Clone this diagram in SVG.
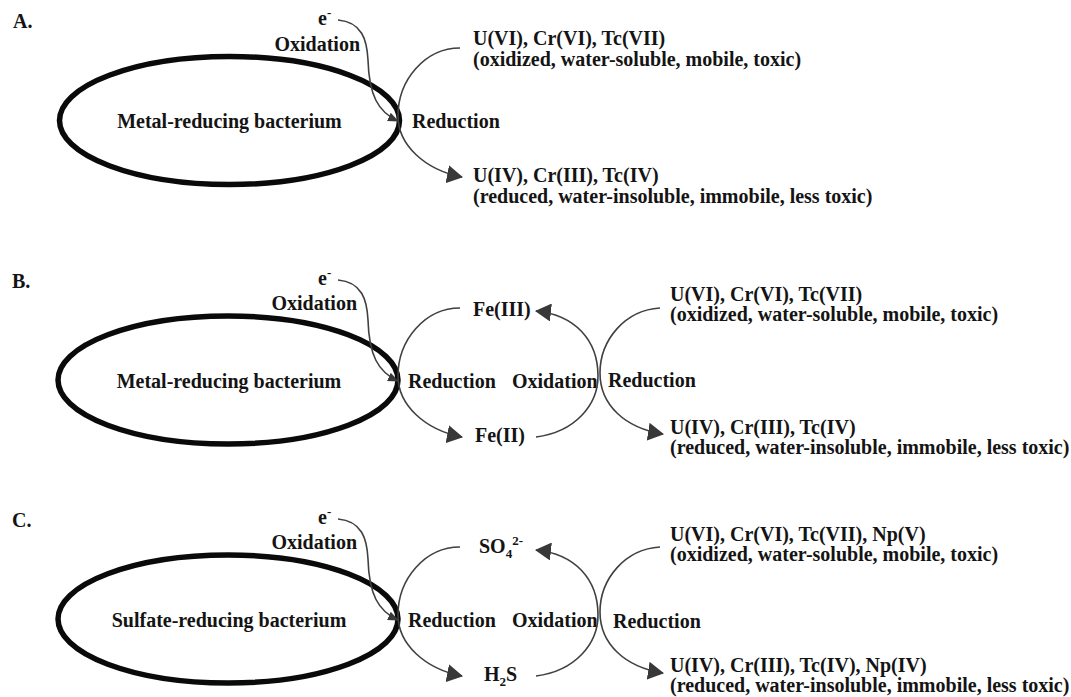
<svg xmlns="http://www.w3.org/2000/svg" width="1071" height="697" viewBox="0 0 1071 697">
<style>
text{font-family:"Liberation Serif","Times New Roman",serif;font-weight:bold;font-size:20px;fill:#141414}
.cell{fill:none;stroke:#0a0a0a;stroke-width:5.5}
.ln{fill:none;stroke:#404040;stroke-width:1.6}
.big{marker-end:url(#ah)}
.sm{marker-end:url(#as)}
.sup{font-size:13px}
</style>
<defs>
<marker id="ah" viewBox="0 0 16 18" refX="15" refY="9" markerWidth="16" markerHeight="18" markerUnits="userSpaceOnUse" orient="auto"><path d="M0,0 L16,9 L0,18 z" fill="#383838"/></marker>
<marker id="as" viewBox="0 0 11 9" refX="10" refY="4.5" markerWidth="11" markerHeight="9" markerUnits="userSpaceOnUse" orient="auto"><path d="M0,0 L11,4.5 L0,9 z" fill="#383838"/></marker>
</defs>

<!-- Panel A -->
<g id="panelA">
<text x="13" y="28">A.</text>
<g id="A-cell"><ellipse class="cell" cx="229.5" cy="120.5" rx="170" ry="64"/><text x="229.5" y="128" text-anchor="middle">Metal-reducing bacterium</text></g>
<g id="A-e"><text x="318" y="25">e<tspan class="sup" dy="-8">-</tspan></text></g>
<g id="A-ox"><text x="360" y="51" text-anchor="end">Oxidation</text></g>
<g id="A-red"><text x="412" y="128">Reduction</text></g>
<g id="A-top"><text x="473" y="45">U(VI), Cr(VI), Tc(VII)</text><text x="473" y="66">(oxidized, water-soluble, mobile, toxic)</text></g>
<g id="A-bot"><text x="473" y="182">U(IV), Cr(III), Tc(IV)</text><text x="473" y="203">(reduced, water-insoluble, immobile, less toxic)</text></g>
</g>

<!-- Panel B -->
<g id="panelB">
<text x="12" y="288">B.</text>
<g id="B-cell"><ellipse class="cell" cx="228" cy="380" rx="170" ry="64"/><text x="229" y="388" text-anchor="middle">Metal-reducing bacterium</text></g>
<g id="B-e"><text x="318" y="285">e<tspan class="sup" dy="-8">-</tspan></text></g>
<g id="B-ox1"><text x="357" y="310" text-anchor="end">Oxidation</text></g>
<g id="B-red1"><text x="408" y="388">Reduction</text></g>
<g id="B-ox2"><text x="512" y="388">Oxidation</text></g>
<g id="B-fe3"><text x="473" y="316">Fe(III)</text></g>
<g id="B-fe2"><text x="475" y="442">Fe(II)</text></g>
<g id="B-red2"><text x="608" y="387">Reduction</text></g>
<g id="B-top"><text x="670" y="301">U(VI), Cr(VI), Tc(VII)</text><text x="670" y="321">(oxidized, water-soluble, mobile, toxic)</text></g>
<g id="B-bot"><text x="670" y="434">U(IV), Cr(III), Tc(IV)</text><text x="670" y="454">(reduced, water-insoluble, immobile, less toxic)</text></g>
</g>

<!-- Panel C -->
<g id="panelC">
<text x="12" y="527">C.</text>
<g id="C-cell"><ellipse class="cell" cx="228" cy="619" rx="170" ry="64"/><text x="229" y="627" text-anchor="middle">Sulfate-reducing bacterium</text></g>
<g id="C-e"><text x="318" y="524">e<tspan class="sup" dy="-8">-</tspan></text></g>
<g id="C-ox1"><text x="357" y="549" text-anchor="end">Oxidation</text></g>
<g id="C-red1"><text x="408" y="627">Reduction</text></g>
<g id="C-ox2"><text x="512" y="627">Oxidation</text></g>
<g id="C-so4"><text x="479" y="553">SO<tspan class="sup" dy="5">4</tspan><tspan class="sup" dy="-13">2-</tspan></text></g>
<g id="C-h2s"><text x="484" y="681">H<tspan class="sup" dy="5">2</tspan><tspan dy="-5">S</tspan></text></g>
<g id="C-red2"><text x="613" y="628">Reduction</text></g>
<g id="C-top"><text x="670" y="541">U(VI), Cr(VI), Tc(VII), Np(V)</text><text x="670" y="561">(oxidized, water-soluble, mobile, toxic)</text></g>
<g id="C-bot"><text x="670" y="672">U(IV), Cr(III), Tc(IV), Np(IV)</text><text x="670" y="692">(reduced, water-insoluble, immobile, less toxic)</text></g>
</g>

<g id="connectors">
<!-- A -->
<path class="ln sm" d="M338,20 C362,22 367,40 368,60 C369,95 378,112 398,121"/>
<path class="ln big" d="M460,48 C425,48 398,80 398,116 C398,145 425,170 462,177"/>
<!-- B -->
<path class="ln sm" d="M338,280 C362,282 367,300 368,320 C369,355 378,372 398,381"/>
<path class="ln big" d="M460,308 C425,308 398,340 398,376 C398,405 425,430 462,437"/>
<path class="ln big" d="M536,437 C575,432 598,405 598,376 C598,340 575,315 536,311"/>
<path class="ln big" d="M660,308 C625,310 600,340 600,373 C600,405 625,428 663,434"/>
<!-- C -->
<path class="ln sm" d="M338,519 C362,521 367,539 368,559 C369,594 378,611 398,620"/>
<path class="ln big" d="M460,547 C425,547 398,579 398,615 C398,644 425,669 462,676"/>
<path class="ln big" d="M536,676 C575,671 598,644 598,615 C598,579 575,554 536,550"/>
<path class="ln big" d="M660,547 C625,549 600,579 600,612 C600,644 625,667 663,673"/>
</g>
</svg>
